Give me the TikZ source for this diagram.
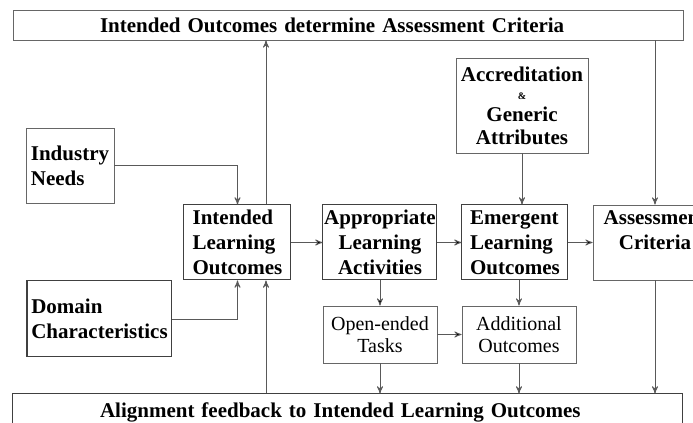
\documentclass[tikz,border=0pt]{standalone}
\usepackage{fontspec}
\setmainfont{Liberation Serif}
\usepackage{tikz}
\usetikzlibrary{arrows}

\begin{document}
\begin{tikzpicture}[->,>=stealth',x=0.5pt,y=-0.5pt,line width=0.4pt]
  \tikzstyle{mainbox}=[rectangle,draw=black!75,fill=white,line width=0.5pt,inner xsep=0pt,inner ysep=0pt,
                       align=center,font=\bfseries\fontsize{10.5}{12.5}\selectfont]
  \tikzstyle{taskbox}=[rectangle,draw=black!60,fill=white,inner xsep=0pt,inner ysep=0pt,
                       align=center,minimum width=57pt,minimum height=28.5pt,font=\fontsize{10}{10.75}\selectfont]
  \tikzstyle{banner}=[rectangle,draw=black!60,fill=white,inner xsep=43.5pt,inner ysep=0pt,text width=248pt,
                      align=left,font=\bfseries\fontsize{10.5}{12.5}\selectfont]
  \tikzstyle{link}=[draw=black!65]

  \useasboundingbox (0,0) rectangle (693,423);
  \clip (0,0) rectangle (693,423);

  \node[banner,minimum height=15pt] (top) at (348,25) {Intended Outcomes determine Assessment Criteria};
  \node[banner,minimum height=18pt,draw=black!75,line width=0.5pt] (bot) at (348,412) {Alignment feedback to Intended Learning Outcomes};

  \node[mainbox,align=left,minimum width=44pt,minimum height=37.5pt,draw=black!60,line width=0.4pt] (ind) at (70,165.5) {Industry\\Needs};
  \node[mainbox,align=left,minimum width=72.5pt,minimum height=38pt] (dom) at (99.5,319) {Domain\\Characteristics};
  \node[mainbox,minimum width=66pt,minimum height=47.5pt,draw=black!60,line width=0.4pt] (acc) at (522,105.5)
       {Accreditation\\[-3.5pt]{\fontsize{5}{6}\selectfont\&}\\[-1.5pt]Generic\\[-1pt]Attributes};

  \node[mainbox,align=left,minimum width=53.5pt,minimum height=37.5pt] (ilo) at (237.5,242.5) {Intended\\Learning\\Outcomes};
  \node[mainbox,minimum width=57pt,minimum height=37.5pt] (ala) [right of=ilo,node distance=71.25pt] {Appropriate\\Learning\\Activities};
  \node[mainbox,align=left,minimum width=53pt,minimum height=37.5pt] (elo) [right of=ala,node distance=67.5pt] {Emergent\\Learning\\Outcomes};
  \node[mainbox,minimum width=62pt,minimum height=37.5pt,draw=black!60,line width=0.4pt] (asc) [right of=elo,node distance=70pt] {Assessment\\Criteria\\\phantom{X}};

  \node[taskbox] (oet) [below of=ala,node distance=46pt] {Open-ended\\Tasks};
  \node[taskbox] (ao) [right of=oet,node distance=69.5pt] {Additional\\Outcomes};

  % inputs to the intended outcomes
  \draw[link] (ind.east) -| (ilo.north);
  \draw[link] (dom.east) -| (ilo.south);
  \draw[link] ([xshift=14.25pt]ilo.north) -- ([xshift=14.25pt]ilo.north |- top.south);
  \draw[link] ([xshift=14.25pt]ilo.south |- bot.north) -- ([xshift=14.25pt]ilo.south);

  % main chain
  \path[link] (ilo) edge (ala)
              (ala) edge (elo)
              (elo) edge (asc)
              (ala) edge (oet)
              (oet) edge (ao);
  \draw[link] (ao.north |- elo.south) -- (ao.north);
  \draw[link] (acc.south) -- (acc.south |- elo.north);
  \draw[link] (top.south -| asc.north) -- (asc.north);

  % feedback
  \draw[link] (oet.south) -- (oet.south |- bot.north);
  \draw[link] (ao.south) -- (ao.south |- bot.north);
  \draw[link] (asc.south) -- (asc.south |- bot.north);
\end{tikzpicture}
\end{document}
